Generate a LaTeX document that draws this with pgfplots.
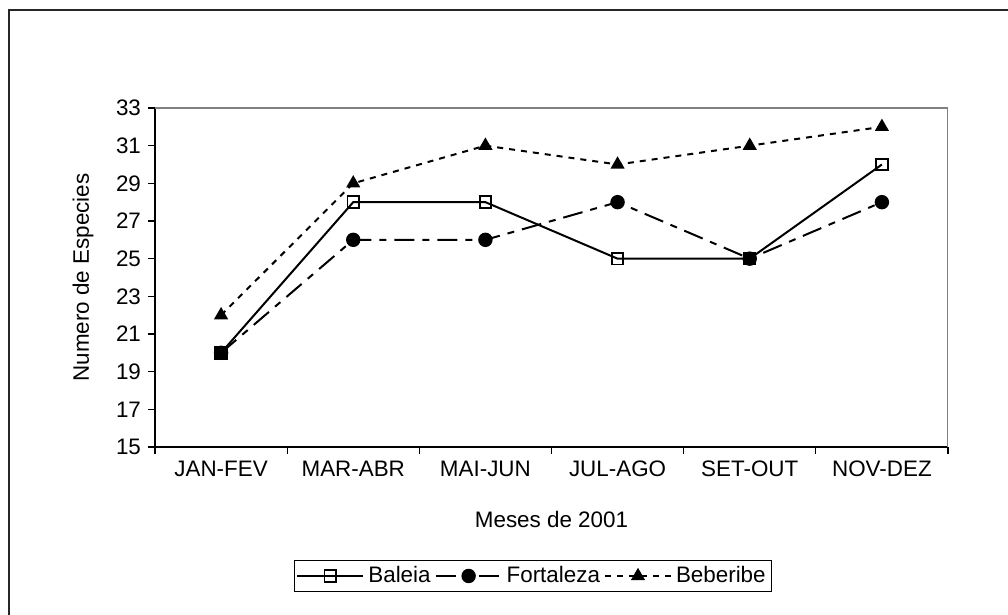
\documentclass[border=0pt]{standalone}
\usepackage{pgfplots}
\pgfplotsset{compat=1.18}
\usepackage{fontspec}
\setmainfont{Liberation Sans}
\begin{document}
\begin{tikzpicture}
\path[use as bounding box] (-77.5pt,-84pt) rectangle (426.5pt,223.5pt);
\draw[line width=1pt, black!85] (-73pt,-90pt) -- (-73pt,218.5pt) -- (430pt,218.5pt);
\begin{axis}[
  at={(0,0)}, anchor=south west,
  scale only axis,
  width=396.5pt, height=169.5pt,
  xmin=-0.5, xmax=5.5,
  ymin=15, ymax=33,
  ytick={15,17,...,33},
  xtick={-0.5,0.5,...,5.5},
  xticklabels={},
  extra x ticks={0,1,2,3,4,5},
  extra x tick labels={JAN-FEV,MAR-ABR,MAI-JUN,JUL-AGO,SET-OUT,NOV-DEZ},
  extra x tick style={tick style={draw=none}},
  axis lines*=left,
  axis line style={line width=0.8pt, black, -},
  tick align=outside,
  major tick length=3.5pt,
  tick style={line width=0.6pt, black},
  /pgf/number format/assume math mode=true,
  tick label style={font=\fontsize{11.2}{13}\selectfont},
  label style={font=\fontsize{11.2}{13}\selectfont},
  xlabel={Meses de 2001},
  ylabel={Numero de Especies},
  xlabel style={at={(axis description cs:0.5,-0.2153)}, anchor=center},
  ylabel style={at={(axis description cs:-0.0908,0.5)}, anchor=center},
  legend columns=3,
  legend style={at={(axis description cs:0.4767,-0.3805)}, anchor=center,
    draw=black, line width=0.6pt, font=\fontsize{11.2}{13}\selectfont,
    inner sep=1pt,
    /tikz/every even column/.append style={column sep=0pt}},
  legend image code/.code={\draw[#1, mark repeat=2, mark phase=2] plot coordinates {(0pt,0pt) (16.5pt,0pt) (33pt,0pt)};},
]
\draw[line width=0.8pt, black!50] (rel axis cs:0,1) -- (rel axis cs:1,1) -- (rel axis cs:1,0);
\addplot[black, line width=1pt, mark=square, mark size=2.9pt, mark options={solid, line width=0.9pt, fill=white}]
  coordinates {(0,20) (1,28) (2,28) (3,25) (4,25) (5,30)};
\addlegendentry{Baleia}
\addplot[black, line width=1pt, dash pattern=on 10pt off 4pt on 3.5pt off 4pt, mark=*, mark size=3.1pt, mark options={solid}]
  coordinates {(0,20) (1,26) (2,26) (3,28) (4,25) (5,28)};
\addlegendentry{Fortaleza}
\addplot[black, line width=1pt, dash pattern=on 3pt off 3pt, mark=triangle*, mark size=3.1pt, mark options={solid}]
  coordinates {(0,22) (1,29) (2,31) (3,30) (4,31) (5,32)};
\addlegendentry{Beberibe}
\end{axis}
\end{tikzpicture}
\end{document}
